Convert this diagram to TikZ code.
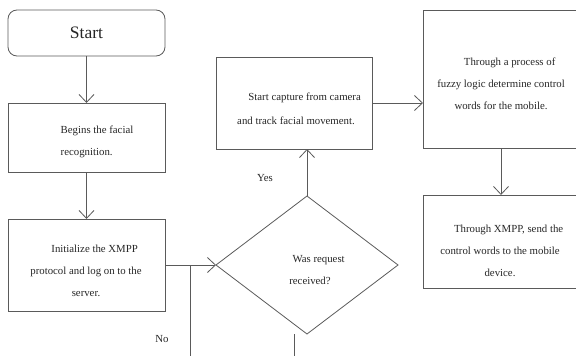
\documentclass[tikz,border=0pt]{standalone}
\usepackage{fontspec}
\setmainfont{Liberation Serif}
\usetikzlibrary{arrows.meta,shapes.geometric}
\definecolor{linegray}{HTML}{5A5A5A}
\definecolor{textgray}{HTML}{262626}
\tikzset{
  box/.style={draw=linegray, line width=0.8pt, minimum width=157pt, inner sep=0pt, outer sep=0pt},
  txt/.style={text=textgray, font=\fontsize{10.8}{22}\selectfont, inner sep=0pt},
  flow/.style={draw=linegray, line width=0.8pt, -{Straight Barb[length=8pt,width=15pt,line width=0.8pt]}},
  plain/.style={draw=linegray, line width=0.8pt}
}
\begin{document}
\begin{tikzpicture}[x=1pt, y=-1pt]
    \useasboundingbox (0,0) rectangle (576,356);
    \clip (0,0) rectangle (576,356);
    % boxes
    \node[box, rounded corners=9pt, minimum height=46pt] (start) at (86.5,33) {};
    \node[box, minimum height=69pt] (begins) at (86.5,137.5) {};
    \node[box, minimum height=92pt] (init) at (86.5,265) {};
    \node[box, minimum width=156pt, minimum height=92pt] (capture) at (294,103) {};
    \node[box, minimum width=156pt, minimum height=138pt] (fuzzy) at (501,79) {};
    \node[box, minimum width=156pt, minimum height=93pt] (xmpp) at (501,241.5) {};
    \node[box, diamond, minimum width=182pt, minimum height=138pt] (request) at (307,265) {};
    % texts
    \node[text=textgray, font=\fontsize{17.5}{20}\selectfont] (start-txt) at (start.center) {Start};
    \node[txt, align=left] (begins-txt) at (97,142) {Begins the facial\\recognition.};
    \node[txt, align=center] (init-txt) at (86,271) {\hspace*{1.6em}Initialize the XMPP\\protocol and log on to the\\server.};
    \node[txt, align=center, font=\fontsize{10.8}{24}\selectfont] (capture-txt) at (296,109) {\hspace*{1.6em}Start capture from camera\\and track facial movement.};
    \node[txt, align=center] (fuzzy-txt) at (501,84) {\hspace*{1.6em}Through a process of\\fuzzy logic determine control\\words for the mobile.};
    \node[txt, align=center] (xmpp-txt) at (500,251) {\hspace*{1.6em}Through XMPP, send the\\control words to the mobile\\device.};
    \node[txt, align=center] (request-txt) at (310,270) {\hspace*{1.6em}Was request\\received?};
    \node[txt] (yes) at (265,178) {Yes};
    \node[txt] (no) at (162,339) {No};
    % connectors
    \coordinate (no-top) at (190,265);
    \coordinate (no-end) at (190,360);
    \coordinate (back-top) at (294,334);
    \coordinate (back-end) at (294,360);
    \draw[flow] (start) -- (begins);
    \draw[flow] (begins) -- (init);
    \draw[flow] (init.east) -- (request.west);
    \draw[flow] (request.north) -- (request.north |- capture.south);
    \draw[flow] (capture.east) -- (capture.east -| fuzzy.west);
    \draw[flow] (fuzzy) -- (xmpp);
    \draw[plain] (no-top) -- (no-end);
    \draw[plain] (back-top) -- (back-end);
\end{tikzpicture}
\end{document}
